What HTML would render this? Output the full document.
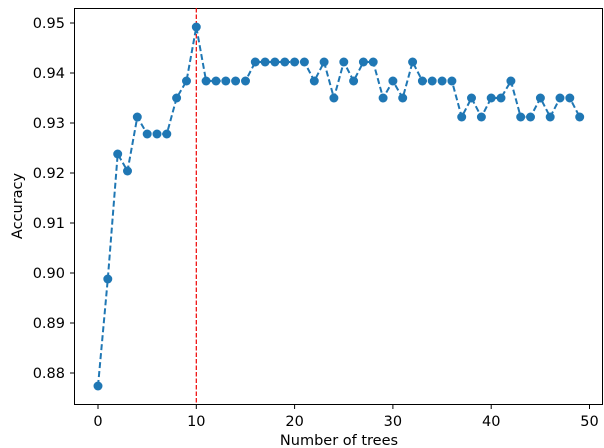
<!DOCTYPE html>
<html><head><meta charset="utf-8"><style>body{margin:0;background:#fff}svg{display:block}text{font-family:"DejaVu Sans","Liberation Sans",sans-serif;font-size:14.5px;fill:#000}</style></head>
<body>
<svg width="604" height="448" viewBox="0 0 604 448">
<rect x="74.5" y="8.5" width="528" height="396" fill="none" stroke="#000" stroke-width="1"/>
<g stroke="#000">
<line x1="98" y1="405" x2="98" y2="409"/><line x1="196.3" y1="405" x2="196.3" y2="409"/><line x1="294.6" y1="405" x2="294.6" y2="409"/><line x1="392.9" y1="405" x2="392.9" y2="409"/><line x1="491.2" y1="405" x2="491.2" y2="409"/><line x1="589.5" y1="405" x2="589.5" y2="409"/>
<line x1="70" y1="23" x2="74" y2="23"/><line x1="70" y1="73" x2="74" y2="73"/><line x1="70" y1="123" x2="74" y2="123"/><line x1="70" y1="173" x2="74" y2="173"/><line x1="70" y1="223" x2="74" y2="223"/><line x1="70" y1="273" x2="74" y2="273"/><line x1="70" y1="323" x2="74" y2="323"/><line x1="70" y1="373" x2="74" y2="373"/>
</g>
<g text-anchor="middle"><text x="98" y="426">0</text><text x="196.3" y="426">10</text><text x="294.6" y="426">20</text><text x="392.9" y="426">30</text><text x="491.2" y="426">40</text><text x="589.5" y="426">50</text></g>
<g text-anchor="end"><text x="65" y="28">0.95</text><text x="65" y="78">0.94</text><text x="65" y="128">0.93</text><text x="65" y="178">0.92</text><text x="65" y="228">0.91</text><text x="65" y="278">0.90</text><text x="65" y="328">0.89</text><text x="65" y="378">0.88</text></g>
<text x="339" y="445" text-anchor="middle">Number of trees</text>
<text transform="translate(22,206) rotate(-90)" text-anchor="middle">Accuracy</text>
<line x1="196.3" y1="8" x2="196.3" y2="404" stroke="#e00" stroke-width="1.2" stroke-dasharray="4.5,2"/>
<polyline fill="none" stroke="#1f77b4" stroke-width="2" stroke-dasharray="6,3" points="98,386 107.8,279 117.7,154 127.5,171 137.3,117 147.2,134 157,134 166.8,134 176.6,98 186.5,81 196.3,27 206.1,81 216,81 225.8,81 235.6,81 245.5,81 255.3,62 265.1,62 274.9,62 284.8,62 294.6,62 304.4,62 314.3,81 324.1,62 333.9,98 343.8,62 353.6,81 363.4,62 373.2,62 383.1,98 392.9,81 402.7,98 412.6,62 422.4,81 432.2,81 442.1,81 451.9,81 461.7,117 471.5,98 481.4,117 491.2,98 501,98 510.9,81 520.7,117 530.5,117 540.4,98 550.2,117 560,98 569.8,98 579.7,117"/>
<g fill="#1f77b4">
<circle cx="98" cy="386" r="4.5"/><circle cx="107.8" cy="279" r="4.5"/><circle cx="117.7" cy="154" r="4.5"/><circle cx="127.5" cy="171" r="4.5"/><circle cx="137.3" cy="117" r="4.5"/><circle cx="147.2" cy="134" r="4.5"/><circle cx="157" cy="134" r="4.5"/><circle cx="166.8" cy="134" r="4.5"/><circle cx="176.6" cy="98" r="4.5"/><circle cx="186.5" cy="81" r="4.5"/><circle cx="196.3" cy="27" r="4.5"/><circle cx="206.1" cy="81" r="4.5"/><circle cx="216" cy="81" r="4.5"/><circle cx="225.8" cy="81" r="4.5"/><circle cx="235.6" cy="81" r="4.5"/><circle cx="245.5" cy="81" r="4.5"/><circle cx="255.3" cy="62" r="4.5"/><circle cx="265.1" cy="62" r="4.5"/><circle cx="274.9" cy="62" r="4.5"/><circle cx="284.8" cy="62" r="4.5"/><circle cx="294.6" cy="62" r="4.5"/><circle cx="304.4" cy="62" r="4.5"/><circle cx="314.3" cy="81" r="4.5"/><circle cx="324.1" cy="62" r="4.5"/><circle cx="333.9" cy="98" r="4.5"/><circle cx="343.8" cy="62" r="4.5"/><circle cx="353.6" cy="81" r="4.5"/><circle cx="363.4" cy="62" r="4.5"/><circle cx="373.2" cy="62" r="4.5"/><circle cx="383.1" cy="98" r="4.5"/><circle cx="392.9" cy="81" r="4.5"/><circle cx="402.7" cy="98" r="4.5"/><circle cx="412.6" cy="62" r="4.5"/><circle cx="422.4" cy="81" r="4.5"/><circle cx="432.2" cy="81" r="4.5"/><circle cx="442.1" cy="81" r="4.5"/><circle cx="451.9" cy="81" r="4.5"/><circle cx="461.7" cy="117" r="4.5"/><circle cx="471.5" cy="98" r="4.5"/><circle cx="481.4" cy="117" r="4.5"/><circle cx="491.2" cy="98" r="4.5"/><circle cx="501" cy="98" r="4.5"/><circle cx="510.9" cy="81" r="4.5"/><circle cx="520.7" cy="117" r="4.5"/><circle cx="530.5" cy="117" r="4.5"/><circle cx="540.4" cy="98" r="4.5"/><circle cx="550.2" cy="117" r="4.5"/><circle cx="560" cy="98" r="4.5"/><circle cx="569.8" cy="98" r="4.5"/><circle cx="579.7" cy="117" r="4.5"/>
</g>
</svg>
</body></html>
